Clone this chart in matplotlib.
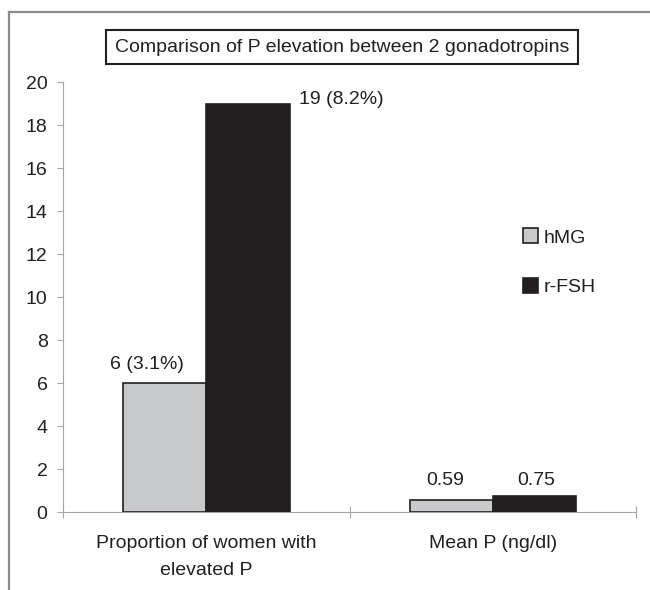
import matplotlib.pyplot as plt
from matplotlib.lines import Line2D
import numpy as np

plt.rcParams['font.family'] = ['Liberation Sans', 'DejaVu Sans']

# ── Data ──────────────────────────────────────────────────────────────────────
categories = ['Proportion of women with\nelevated P', 'Mean P (ng/dl)']
series_names = ['hMG', 'r-FSH']
hmg = [6, 0.59]
rfsh = [19, 0.75]
hmg_labels = ['6 (3.1%)', '0.59']
rfsh_labels = ['19 (8.2%)', '0.75']
yticks = [0, 2, 4, 6, 8, 10, 12, 14, 16, 18, 20]
title = 'Comparison of P elevation between 2 gonadotropins'

# ── Style ─────────────────────────────────────────────────────────────────────
INK = '#231f20'
GREY_BAR = '#c8c9cb'
AXIS_GREY = '#a6a6a6'
FS = 14
BAR_W = 0.29

# label offsets in points (label anchored at bar top centre / right edge)
hmg_off = [(-13.3, 14.0), (-4.3, 13.7)]
rfsh_off = [(7.0, 3.0), (1.4, 11.5)]

fig = plt.figure(figsize=(6.5, 5.9), dpi=100)
ax = fig.add_axes([0.0974, 0.1314, 0.8811, 0.7288])

x = np.arange(len(categories))
b1 = ax.bar(x - BAR_W / 2, hmg, BAR_W, color=GREY_BAR, edgecolor=INK,
            linewidth=1.2, label=series_names[0], zorder=3)
b2 = ax.bar(x + BAR_W / 2, rfsh, BAR_W, color=INK, edgecolor=INK,
            linewidth=1.2, label=series_names[1], zorder=3)

# value labels
for i, (rect, lab) in enumerate(zip(b1, hmg_labels)):
    ax.annotate(lab, (rect.get_x() + rect.get_width() / 2, rect.get_height()),
                xytext=hmg_off[i], textcoords='offset points',
                ha='center', va='center', fontsize=FS, color=INK)
for i, (rect, lab) in enumerate(zip(b2, rfsh_labels)):
    if i == 0:
        ax.annotate(lab, (rect.get_x() + rect.get_width(), rect.get_height()),
                    xytext=rfsh_off[i], textcoords='offset points',
                    ha='left', va='center', fontsize=FS, color=INK)
    else:
        ax.annotate(lab, (rect.get_x() + rect.get_width() / 2, rect.get_height()),
                    xytext=rfsh_off[i], textcoords='offset points',
                    ha='center', va='center', fontsize=FS, color=INK)

# axes
ax.set_xlim(-0.5, len(categories) - 0.5)
ax.set_ylim(0, 20)
ax.set_yticks(yticks)
ax.set_xticks(x)
ax.set_xticklabels(categories, fontsize=FS, color=INK, linespacing=1.8)
ax.set_xticks(np.arange(len(categories) + 1) - 0.5, minor=True)
ax.tick_params(axis='x', which='major', length=0, pad=16)
ax.tick_params(axis='x', which='minor', direction='inout', length=8,
               color=AXIS_GREY, width=0.8)
ax.tick_params(axis='y', direction='out', length=4.3, color=AXIS_GREY,
               width=0.8, labelsize=FS, labelcolor=INK, pad=7)
for s in ['top', 'right']:
    ax.spines[s].set_visible(False)
for s in ['left', 'bottom']:
    ax.spines[s].set_color(AXIS_GREY)
    ax.spines[s].set_linewidth(0.8)

# legend
ax.legend(handles=[b1, b2], loc='upper left',
          bbox_to_anchor=(523 / 650, 1 - 228.5 / 590),
          bbox_transform=fig.transFigure, frameon=False, fontsize=FS,
          handlelength=0.77, handleheight=0.77, handletextpad=0.3,
          labelspacing=1.62, borderpad=0, borderaxespad=0, labelcolor=INK)

# title in box
fig.text(342 / 650, 1 - 47 / 590, title, ha='center', va='center',
         fontsize=FS, color=INK,
         bbox=dict(boxstyle='square,pad=0.45', facecolor='white',
                   edgecolor=INK, linewidth=1.5))

# outer frame (top and left edges visible)
fig.add_artist(Line2D([9 / 650, 1], [1 - 12 / 590, 1 - 12 / 590],
                      transform=fig.transFigure, color='#8c8c8c', linewidth=1.6))
fig.add_artist(Line2D([9 / 650, 9 / 650], [0, 1 - 12 / 590],
                      transform=fig.transFigure, color='#8c8c8c', linewidth=1.6))

plt.savefig('out.png', dpi=100)
